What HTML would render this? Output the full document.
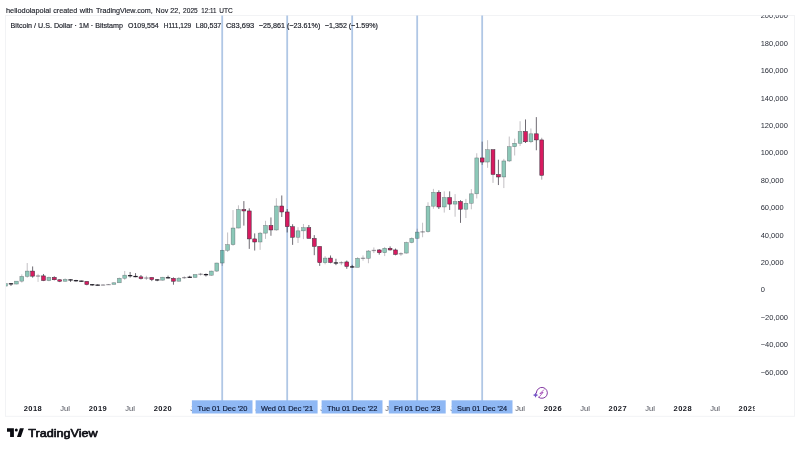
<!DOCTYPE html>
<html><head><meta charset="utf-8"><title>BTCUSD</title>
<style>
html,body{margin:0;padding:0;background:#fff;}
body{width:800px;height:450px;overflow:hidden;font-family:"Liberation Sans",sans-serif;}
svg{display:block;font-family:"Liberation Sans",sans-serif;}
text{-webkit-font-smoothing:antialiased;}
svg{will-change:transform;opacity:0.999;}
</style></head><body>
<svg width="800" height="450" viewBox="0 0 800 450">
<rect width="800" height="450" fill="#ffffff"/>
<!-- chart frame -->
<rect x="5.5" y="15.5" width="789" height="400.8" fill="none" stroke="#f2f3f5" stroke-width="1"/>
<text x="6.0" y="12.5" font-size="8" fill="#1a1d26" stroke="#1a1d26" stroke-width="0.15" textLength="45.0" lengthAdjust="spacingAndGlyphs">hellodolapolai</text><text x="53.25" y="12.5" font-size="8" fill="#1a1d26" stroke="#1a1d26" stroke-width="0.15" textLength="24.0" lengthAdjust="spacingAndGlyphs">created</text><text x="79.8" y="12.5" font-size="8" fill="#1a1d26" stroke="#1a1d26" stroke-width="0.15" textLength="13.2" lengthAdjust="spacingAndGlyphs">with</text><text x="96.0" y="12.5" font-size="8" fill="#1a1d26" stroke="#1a1d26" stroke-width="0.15" textLength="56.7" lengthAdjust="spacingAndGlyphs">TradingView.com,</text><text x="155.6" y="12.5" font-size="8" fill="#1a1d26" stroke="#1a1d26" stroke-width="0.15" textLength="12.6" lengthAdjust="spacingAndGlyphs">Nov</text><text x="170.3" y="12.5" font-size="8" fill="#1a1d26" stroke="#1a1d26" stroke-width="0.15" textLength="10.0" lengthAdjust="spacingAndGlyphs">22,</text><text x="183.1" y="12.5" font-size="8" fill="#1a1d26" stroke="#1a1d26" stroke-width="0.15" textLength="14.6" lengthAdjust="spacingAndGlyphs">2025</text><text x="201.3" y="12.5" font-size="8" fill="#1a1d26" stroke="#1a1d26" stroke-width="0.15" textLength="15.1" lengthAdjust="spacingAndGlyphs">12:11</text><text x="219.3" y="12.5" font-size="8" fill="#1a1d26" stroke="#1a1d26" stroke-width="0.15" textLength="13.5" lengthAdjust="spacingAndGlyphs">UTC</text>
<!-- time axis -->
<clipPath id="cp3"><rect x="0" y="395" width="754.7" height="30"/></clipPath><g clip-path="url(#cp3)"><text x="32.94" y="411.1" font-size="7.5" font-weight="bold" fill="#15171f" text-anchor="middle" letter-spacing="0.45">2018</text><text x="65.14" y="411.1" font-size="7.5" fill="#4c4f59" text-anchor="middle">Jul</text><text x="97.93" y="411.1" font-size="7.5" font-weight="bold" fill="#15171f" text-anchor="middle" letter-spacing="0.45">2019</text><text x="130.13" y="411.1" font-size="7.5" fill="#4c4f59" text-anchor="middle">Jul</text><text x="162.92" y="411.1" font-size="7.5" font-weight="bold" fill="#15171f" text-anchor="middle" letter-spacing="0.45">2020</text><text x="195.12" y="411.1" font-size="7.5" fill="#4c4f59" text-anchor="middle">Jul</text><text x="227.92" y="411.1" font-size="7.5" font-weight="bold" fill="#15171f" text-anchor="middle" letter-spacing="0.45">2021</text><text x="260.11" y="411.1" font-size="7.5" fill="#4c4f59" text-anchor="middle">Jul</text><text x="292.91" y="411.1" font-size="7.5" font-weight="bold" fill="#15171f" text-anchor="middle" letter-spacing="0.45">2022</text><text x="325.10" y="411.1" font-size="7.5" fill="#4c4f59" text-anchor="middle">Jul</text><text x="357.90" y="411.1" font-size="7.5" font-weight="bold" fill="#15171f" text-anchor="middle" letter-spacing="0.45">2023</text><text x="390.10" y="411.1" font-size="7.5" fill="#4c4f59" text-anchor="middle">Jul</text><text x="422.89" y="411.1" font-size="7.5" font-weight="bold" fill="#15171f" text-anchor="middle" letter-spacing="0.45">2024</text><text x="455.09" y="411.1" font-size="7.5" fill="#4c4f59" text-anchor="middle">Jul</text><text x="487.88" y="411.1" font-size="7.5" font-weight="bold" fill="#15171f" text-anchor="middle" letter-spacing="0.45">2025</text><text x="520.08" y="411.1" font-size="7.5" fill="#4c4f59" text-anchor="middle">Jul</text><text x="552.88" y="411.1" font-size="7.5" font-weight="bold" fill="#15171f" text-anchor="middle" letter-spacing="0.45">2026</text><text x="585.07" y="411.1" font-size="7.5" fill="#4c4f59" text-anchor="middle">Jul</text><text x="617.87" y="411.1" font-size="7.5" font-weight="bold" fill="#15171f" text-anchor="middle" letter-spacing="0.45">2027</text><text x="650.06" y="411.1" font-size="7.5" fill="#4c4f59" text-anchor="middle">Jul</text><text x="682.86" y="411.1" font-size="7.5" font-weight="bold" fill="#15171f" text-anchor="middle" letter-spacing="0.45">2028</text><text x="715.06" y="411.1" font-size="7.5" fill="#4c4f59" text-anchor="middle">Jul</text><text x="747.85" y="411.1" font-size="7.5" font-weight="bold" fill="#15171f" text-anchor="middle" letter-spacing="0.45">2029</text></g>
<!-- vertical lines -->
<g><rect x="221.30" y="15.5" width="1.8" height="386" fill="#b0c7e5"/><rect x="286.29" y="15.5" width="1.8" height="386" fill="#b0c7e5"/><rect x="351.28" y="15.5" width="1.8" height="386" fill="#b0c7e5"/><rect x="416.28" y="15.5" width="1.8" height="386" fill="#b0c7e5"/><rect x="481.27" y="15.5" width="1.8" height="386" fill="#b0c7e5"/></g>
<!-- candles -->
<g clip-path="url(#cp)">
<clipPath id="cp"><rect x="6" y="16" width="750" height="385"/></clipPath>
<line x1="5.56" x2="5.56" y1="283.47" y2="283.56" stroke="#2a2430" stroke-width="0.8" stroke-opacity="0.36"/>
<line x1="5.56" x2="5.56" y1="286.09" y2="286.37" stroke="#2a2430" stroke-width="0.8" stroke-opacity="0.36"/>
<rect x="3.63" y="283.56" width="3.85" height="2.53" fill="rgb(25,145,113)" fill-opacity="0.5" stroke="#2a2430" stroke-width="0.5" stroke-opacity="0.5"/>
<line x1="10.98" x2="10.98" y1="283.18" y2="285.92" stroke="#2a2430" stroke-width="0.8" stroke-opacity="0.85"/>
<rect x="8.80" y="283.19" width="4.35" height="1.25" fill="#15111b" fill-opacity="0.95"/>
<line x1="16.39" x2="16.39" y1="284.05" y2="284.34" stroke="#2a2430" stroke-width="0.8" stroke-opacity="0.36"/>
<rect x="14.47" y="281.16" width="3.85" height="2.89" fill="rgb(25,145,113)" fill-opacity="0.5" stroke="#2a2430" stroke-width="0.5" stroke-opacity="0.5"/>
<line x1="21.81" x2="21.81" y1="274.38" y2="276.37" stroke="#2a2430" stroke-width="0.8" stroke-opacity="0.36"/>
<line x1="21.81" x2="21.81" y1="281.16" y2="282.60" stroke="#2a2430" stroke-width="0.8" stroke-opacity="0.36"/>
<rect x="19.88" y="276.37" width="3.85" height="4.80" fill="rgb(25,145,113)" fill-opacity="0.5" stroke="#2a2430" stroke-width="0.5" stroke-opacity="0.5"/>
<line x1="27.22" x2="27.22" y1="263.06" y2="271.09" stroke="#2a2430" stroke-width="0.8" stroke-opacity="0.36"/>
<line x1="27.22" x2="27.22" y1="276.37" y2="277.67" stroke="#2a2430" stroke-width="0.8" stroke-opacity="0.36"/>
<rect x="25.30" y="271.09" width="3.85" height="5.27" fill="rgb(25,145,113)" fill-opacity="0.5" stroke="#2a2430" stroke-width="0.5" stroke-opacity="0.5"/>
<line x1="32.64" x2="32.64" y1="266.44" y2="271.09" stroke="#2a2430" stroke-width="0.8" stroke-opacity="0.85"/>
<line x1="32.64" x2="32.64" y1="276.16" y2="277.67" stroke="#2a2430" stroke-width="0.8" stroke-opacity="0.85"/>
<rect x="30.71" y="271.09" width="3.85" height="5.07" fill="#d81b60" stroke="#2a2430" stroke-width="0.5" stroke-opacity="0.95"/>
<line x1="38.06" x2="38.06" y1="273.83" y2="281.92" stroke="#2a2430" stroke-width="0.8" stroke-opacity="0.3"/>
<rect x="35.88" y="275.41" width="4.35" height="1.25" fill="#2a2430" fill-opacity="0.45"/>
<line x1="43.47" x2="43.47" y1="273.97" y2="275.89" stroke="#2a2430" stroke-width="0.8" stroke-opacity="0.85"/>
<line x1="43.47" x2="43.47" y1="280.55" y2="281.10" stroke="#2a2430" stroke-width="0.8" stroke-opacity="0.85"/>
<rect x="41.55" y="275.89" width="3.85" height="4.66" fill="#d81b60" stroke="#2a2430" stroke-width="0.5" stroke-opacity="0.95"/>
<line x1="48.89" x2="48.89" y1="276.64" y2="277.34" stroke="#2a2430" stroke-width="0.8" stroke-opacity="0.36"/>
<line x1="48.89" x2="48.89" y1="280.55" y2="281.23" stroke="#2a2430" stroke-width="0.8" stroke-opacity="0.36"/>
<rect x="46.96" y="277.34" width="3.85" height="3.21" fill="rgb(25,145,113)" fill-opacity="0.5" stroke="#2a2430" stroke-width="0.5" stroke-opacity="0.5"/>
<line x1="54.30" x2="54.30" y1="276.31" y2="277.34" stroke="#2a2430" stroke-width="0.8" stroke-opacity="0.85"/>
<line x1="54.30" x2="54.30" y1="279.75" y2="280.37" stroke="#2a2430" stroke-width="0.8" stroke-opacity="0.85"/>
<rect x="52.38" y="277.34" width="3.85" height="2.41" fill="#d81b60" stroke="#2a2430" stroke-width="0.5" stroke-opacity="0.95"/>
<line x1="59.72" x2="59.72" y1="279.36" y2="279.75" stroke="#2a2430" stroke-width="0.8" stroke-opacity="0.85"/>
<line x1="59.72" x2="59.72" y1="281.26" y2="282.12" stroke="#2a2430" stroke-width="0.8" stroke-opacity="0.85"/>
<rect x="57.79" y="279.75" width="3.85" height="1.51" fill="#d81b60" stroke="#2a2430" stroke-width="0.5" stroke-opacity="0.95"/>
<line x1="65.14" x2="65.14" y1="278.38" y2="279.42" stroke="#2a2430" stroke-width="0.8" stroke-opacity="0.36"/>
<line x1="65.14" x2="65.14" y1="281.26" y2="281.68" stroke="#2a2430" stroke-width="0.8" stroke-opacity="0.36"/>
<rect x="63.21" y="279.42" width="3.85" height="1.84" fill="rgb(25,145,113)" fill-opacity="0.5" stroke="#2a2430" stroke-width="0.5" stroke-opacity="0.5"/>
<line x1="70.55" x2="70.55" y1="279.38" y2="281.94" stroke="#2a2430" stroke-width="0.8" stroke-opacity="0.85"/>
<rect x="68.38" y="279.29" width="4.35" height="1.25" fill="#15111b" fill-opacity="0.95"/>
<line x1="75.97" x2="75.97" y1="279.86" y2="281.64" stroke="#2a2430" stroke-width="0.8" stroke-opacity="0.85"/>
<rect x="73.79" y="280.06" width="4.35" height="1.25" fill="#15111b" fill-opacity="0.95"/>
<line x1="81.38" x2="81.38" y1="280.68" y2="281.57" stroke="#2a2430" stroke-width="0.8" stroke-opacity="0.85"/>
<rect x="79.21" y="280.55" width="4.35" height="1.25" fill="#15111b" fill-opacity="0.95"/>
<line x1="86.80" x2="86.80" y1="281.03" y2="281.37" stroke="#2a2430" stroke-width="0.8" stroke-opacity="0.85"/>
<line x1="86.80" x2="86.80" y1="284.56" y2="285.25" stroke="#2a2430" stroke-width="0.8" stroke-opacity="0.85"/>
<rect x="84.87" y="281.37" width="3.85" height="3.19" fill="#d81b60" stroke="#2a2430" stroke-width="0.5" stroke-opacity="0.95"/>
<line x1="92.22" x2="92.22" y1="284.20" y2="285.73" stroke="#2a2430" stroke-width="0.8" stroke-opacity="0.85"/>
<rect x="90.04" y="284.13" width="4.35" height="1.25" fill="#15111b" fill-opacity="0.95"/>
<line x1="97.63" x2="97.63" y1="284.42" y2="285.45" stroke="#2a2430" stroke-width="0.8" stroke-opacity="0.85"/>
<rect x="95.46" y="284.52" width="4.35" height="1.25" fill="#15111b" fill-opacity="0.95"/>
<line x1="103.05" x2="103.05" y1="284.26" y2="285.42" stroke="#2a2430" stroke-width="0.8" stroke-opacity="0.36"/>
<rect x="100.87" y="284.45" width="4.35" height="1.25" fill="#2a2430" fill-opacity="0.45"/>
<line x1="108.46" x2="108.46" y1="284.38" y2="285.00" stroke="#2a2430" stroke-width="0.8" stroke-opacity="0.36"/>
<rect x="106.29" y="283.98" width="4.35" height="1.25" fill="#2a2430" fill-opacity="0.45"/>
<line x1="113.88" x2="113.88" y1="282.33" y2="282.78" stroke="#2a2430" stroke-width="0.8" stroke-opacity="0.36"/>
<line x1="113.88" x2="113.88" y1="284.40" y2="284.45" stroke="#2a2430" stroke-width="0.8" stroke-opacity="0.36"/>
<rect x="111.95" y="282.78" width="3.85" height="1.62" fill="rgb(25,145,113)" fill-opacity="0.5" stroke="#2a2430" stroke-width="0.5" stroke-opacity="0.5"/>
<line x1="119.30" x2="119.30" y1="277.55" y2="278.29" stroke="#2a2430" stroke-width="0.8" stroke-opacity="0.36"/>
<rect x="117.37" y="278.29" width="3.85" height="4.49" fill="rgb(25,145,113)" fill-opacity="0.5" stroke="#2a2430" stroke-width="0.5" stroke-opacity="0.5"/>
<line x1="124.71" x2="124.71" y1="270.98" y2="275.18" stroke="#2a2430" stroke-width="0.8" stroke-opacity="0.36"/>
<line x1="124.71" x2="124.71" y1="278.29" y2="279.82" stroke="#2a2430" stroke-width="0.8" stroke-opacity="0.36"/>
<rect x="122.79" y="275.18" width="3.85" height="3.11" fill="rgb(25,145,113)" fill-opacity="0.5" stroke="#2a2430" stroke-width="0.5" stroke-opacity="0.5"/>
<line x1="130.13" x2="130.13" y1="271.98" y2="277.60" stroke="#2a2430" stroke-width="0.8" stroke-opacity="0.85"/>
<rect x="127.95" y="275.06" width="4.35" height="1.25" fill="#15111b" fill-opacity="0.95"/>
<line x1="135.54" x2="135.54" y1="273.12" y2="277.23" stroke="#2a2430" stroke-width="0.8" stroke-opacity="0.85"/>
<rect x="133.37" y="275.91" width="4.35" height="1.25" fill="#15111b" fill-opacity="0.95"/>
<line x1="140.96" x2="140.96" y1="275.00" y2="276.86" stroke="#2a2430" stroke-width="0.8" stroke-opacity="0.85"/>
<line x1="140.96" x2="140.96" y1="278.64" y2="279.45" stroke="#2a2430" stroke-width="0.8" stroke-opacity="0.85"/>
<rect x="139.03" y="276.86" width="3.85" height="1.78" fill="#d81b60" stroke="#2a2430" stroke-width="0.5" stroke-opacity="0.95"/>
<line x1="146.38" x2="146.38" y1="275.82" y2="280.00" stroke="#2a2430" stroke-width="0.8" stroke-opacity="0.36"/>
<rect x="144.20" y="277.43" width="4.35" height="1.25" fill="#2a2430" fill-opacity="0.45"/>
<line x1="151.79" x2="151.79" y1="276.99" y2="277.46" stroke="#2a2430" stroke-width="0.8" stroke-opacity="0.85"/>
<line x1="151.79" x2="151.79" y1="279.66" y2="281.10" stroke="#2a2430" stroke-width="0.8" stroke-opacity="0.85"/>
<rect x="149.87" y="277.46" width="3.85" height="2.19" fill="#d81b60" stroke="#2a2430" stroke-width="0.5" stroke-opacity="0.95"/>
<line x1="157.21" x2="157.21" y1="279.38" y2="281.19" stroke="#2a2430" stroke-width="0.8" stroke-opacity="0.85"/>
<rect x="155.03" y="279.30" width="4.35" height="1.25" fill="#15111b" fill-opacity="0.95"/>
<line x1="162.62" x2="162.62" y1="276.89" y2="277.22" stroke="#2a2430" stroke-width="0.8" stroke-opacity="0.36"/>
<line x1="162.62" x2="162.62" y1="280.18" y2="280.62" stroke="#2a2430" stroke-width="0.8" stroke-opacity="0.36"/>
<rect x="160.70" y="277.22" width="3.85" height="2.96" fill="rgb(25,145,113)" fill-opacity="0.5" stroke="#2a2430" stroke-width="0.5" stroke-opacity="0.5"/>
<line x1="168.04" x2="168.04" y1="275.62" y2="278.45" stroke="#2a2430" stroke-width="0.8" stroke-opacity="0.85"/>
<rect x="165.86" y="277.15" width="4.35" height="1.25" fill="#15111b" fill-opacity="0.95"/>
<line x1="173.46" x2="173.46" y1="277.40" y2="278.33" stroke="#2a2430" stroke-width="0.8" stroke-opacity="0.85"/>
<line x1="173.46" x2="173.46" y1="281.22" y2="284.73" stroke="#2a2430" stroke-width="0.8" stroke-opacity="0.85"/>
<rect x="171.53" y="278.33" width="3.85" height="2.89" fill="#d81b60" stroke="#2a2430" stroke-width="0.5" stroke-opacity="0.95"/>
<line x1="178.87" x2="178.87" y1="277.04" y2="278.19" stroke="#2a2430" stroke-width="0.8" stroke-opacity="0.36"/>
<line x1="178.87" x2="178.87" y1="281.22" y2="281.57" stroke="#2a2430" stroke-width="0.8" stroke-opacity="0.36"/>
<rect x="176.95" y="278.19" width="3.85" height="3.03" fill="rgb(25,145,113)" fill-opacity="0.5" stroke="#2a2430" stroke-width="0.5" stroke-opacity="0.5"/>
<line x1="184.29" x2="184.29" y1="276.20" y2="278.90" stroke="#2a2430" stroke-width="0.8" stroke-opacity="0.36"/>
<rect x="182.11" y="277.00" width="4.35" height="1.25" fill="#2a2430" fill-opacity="0.45"/>
<line x1="189.70" x2="189.70" y1="275.78" y2="277.90" stroke="#2a2430" stroke-width="0.8" stroke-opacity="0.85"/>
<rect x="187.53" y="276.65" width="4.35" height="1.25" fill="#15111b" fill-opacity="0.95"/>
<line x1="195.12" x2="195.12" y1="274.35" y2="274.46" stroke="#2a2430" stroke-width="0.8" stroke-opacity="0.36"/>
<line x1="195.12" x2="195.12" y1="277.49" y2="277.81" stroke="#2a2430" stroke-width="0.8" stroke-opacity="0.36"/>
<rect x="193.19" y="274.46" width="3.85" height="3.03" fill="rgb(25,145,113)" fill-opacity="0.5" stroke="#2a2430" stroke-width="0.5" stroke-opacity="0.5"/>
<line x1="200.54" x2="200.54" y1="272.92" y2="275.55" stroke="#2a2430" stroke-width="0.8" stroke-opacity="0.36"/>
<rect x="198.36" y="273.63" width="4.35" height="1.25" fill="#2a2430" fill-opacity="0.45"/>
<line x1="205.95" x2="205.95" y1="273.49" y2="276.53" stroke="#2a2430" stroke-width="0.8" stroke-opacity="0.85"/>
<rect x="203.78" y="274.02" width="4.35" height="1.25" fill="#15111b" fill-opacity="0.95"/>
<line x1="211.37" x2="211.37" y1="270.68" y2="271.09" stroke="#2a2430" stroke-width="0.8" stroke-opacity="0.36"/>
<line x1="211.37" x2="211.37" y1="275.23" y2="275.79" stroke="#2a2430" stroke-width="0.8" stroke-opacity="0.36"/>
<rect x="209.44" y="271.09" width="3.85" height="4.14" fill="rgb(25,145,113)" fill-opacity="0.5" stroke="#2a2430" stroke-width="0.5" stroke-opacity="0.5"/>
<line x1="216.78" x2="216.78" y1="262.79" y2="263.01" stroke="#2a2430" stroke-width="0.8" stroke-opacity="0.36"/>
<line x1="216.78" x2="216.78" y1="271.09" y2="271.92" stroke="#2a2430" stroke-width="0.8" stroke-opacity="0.36"/>
<rect x="214.86" y="263.01" width="3.85" height="8.08" fill="rgb(25,145,113)" fill-opacity="0.5" stroke="#2a2430" stroke-width="0.5" stroke-opacity="0.5"/>
<line x1="222.20" x2="222.20" y1="249.86" y2="250.28" stroke="#2a2430" stroke-width="0.8" stroke-opacity="0.36"/>
<line x1="222.20" x2="222.20" y1="263.01" y2="265.93" stroke="#2a2430" stroke-width="0.8" stroke-opacity="0.36"/>
<rect x="220.27" y="250.28" width="3.85" height="12.73" fill="rgb(25,145,113)" fill-opacity="0.5" stroke="#2a2430" stroke-width="0.5" stroke-opacity="0.5"/>
<line x1="227.62" x2="227.62" y1="232.47" y2="244.60" stroke="#2a2430" stroke-width="0.8" stroke-opacity="0.36"/>
<line x1="227.62" x2="227.62" y1="250.28" y2="252.01" stroke="#2a2430" stroke-width="0.8" stroke-opacity="0.36"/>
<rect x="225.69" y="244.60" width="3.85" height="5.69" fill="rgb(25,145,113)" fill-opacity="0.5" stroke="#2a2430" stroke-width="0.5" stroke-opacity="0.5"/>
<line x1="233.03" x2="233.03" y1="210.06" y2="228.02" stroke="#2a2430" stroke-width="0.8" stroke-opacity="0.36"/>
<line x1="233.03" x2="233.03" y1="244.60" y2="245.75" stroke="#2a2430" stroke-width="0.8" stroke-opacity="0.36"/>
<rect x="231.11" y="228.02" width="3.85" height="16.58" fill="rgb(25,145,113)" fill-opacity="0.5" stroke="#2a2430" stroke-width="0.5" stroke-opacity="0.5"/>
<line x1="238.45" x2="238.45" y1="205.33" y2="209.44" stroke="#2a2430" stroke-width="0.8" stroke-opacity="0.36"/>
<line x1="238.45" x2="238.45" y1="228.02" y2="228.35" stroke="#2a2430" stroke-width="0.8" stroke-opacity="0.36"/>
<rect x="236.52" y="209.44" width="3.85" height="18.58" fill="rgb(25,145,113)" fill-opacity="0.5" stroke="#2a2430" stroke-width="0.5" stroke-opacity="0.5"/>
<line x1="243.86" x2="243.86" y1="201.09" y2="209.44" stroke="#2a2430" stroke-width="0.8" stroke-opacity="0.85"/>
<line x1="243.86" x2="243.86" y1="210.95" y2="225.61" stroke="#2a2430" stroke-width="0.8" stroke-opacity="0.85"/>
<rect x="241.94" y="209.44" width="3.85" height="1.51" fill="#d81b60" stroke="#2a2430" stroke-width="0.5" stroke-opacity="0.95"/>
<line x1="249.28" x2="249.28" y1="208.35" y2="210.95" stroke="#2a2430" stroke-width="0.8" stroke-opacity="0.85"/>
<line x1="249.28" x2="249.28" y1="238.90" y2="248.90" stroke="#2a2430" stroke-width="0.8" stroke-opacity="0.85"/>
<rect x="247.35" y="210.95" width="3.85" height="27.95" fill="#d81b60" stroke="#2a2430" stroke-width="0.5" stroke-opacity="0.95"/>
<line x1="254.70" x2="254.70" y1="233.38" y2="238.90" stroke="#2a2430" stroke-width="0.8" stroke-opacity="0.85"/>
<line x1="254.70" x2="254.70" y1="242.00" y2="250.54" stroke="#2a2430" stroke-width="0.8" stroke-opacity="0.85"/>
<rect x="252.77" y="238.90" width="3.85" height="3.10" fill="#d81b60" stroke="#2a2430" stroke-width="0.5" stroke-opacity="0.95"/>
<line x1="260.11" x2="260.11" y1="231.91" y2="233.15" stroke="#2a2430" stroke-width="0.8" stroke-opacity="0.36"/>
<line x1="260.11" x2="260.11" y1="242.00" y2="249.86" stroke="#2a2430" stroke-width="0.8" stroke-opacity="0.36"/>
<rect x="258.19" y="233.15" width="3.85" height="8.85" fill="rgb(25,145,113)" fill-opacity="0.5" stroke="#2a2430" stroke-width="0.5" stroke-opacity="0.5"/>
<line x1="265.53" x2="265.53" y1="220.81" y2="225.43" stroke="#2a2430" stroke-width="0.8" stroke-opacity="0.36"/>
<line x1="265.53" x2="265.53" y1="233.15" y2="238.90" stroke="#2a2430" stroke-width="0.8" stroke-opacity="0.36"/>
<rect x="263.60" y="225.43" width="3.85" height="7.71" fill="rgb(25,145,113)" fill-opacity="0.5" stroke="#2a2430" stroke-width="0.5" stroke-opacity="0.5"/>
<line x1="270.94" x2="270.94" y1="217.46" y2="225.43" stroke="#2a2430" stroke-width="0.8" stroke-opacity="0.85"/>
<line x1="270.94" x2="270.94" y1="229.97" y2="235.75" stroke="#2a2430" stroke-width="0.8" stroke-opacity="0.85"/>
<rect x="269.02" y="225.43" width="3.85" height="4.53" fill="#d81b60" stroke="#2a2430" stroke-width="0.5" stroke-opacity="0.95"/>
<line x1="276.36" x2="276.36" y1="198.21" y2="206.02" stroke="#2a2430" stroke-width="0.8" stroke-opacity="0.36"/>
<line x1="276.36" x2="276.36" y1="229.97" y2="230.69" stroke="#2a2430" stroke-width="0.8" stroke-opacity="0.36"/>
<rect x="274.44" y="206.02" width="3.85" height="23.95" fill="rgb(25,145,113)" fill-opacity="0.5" stroke="#2a2430" stroke-width="0.5" stroke-opacity="0.5"/>
<line x1="281.78" x2="281.78" y1="195.47" y2="206.02" stroke="#2a2430" stroke-width="0.8" stroke-opacity="0.85"/>
<line x1="281.78" x2="281.78" y1="211.98" y2="216.98" stroke="#2a2430" stroke-width="0.8" stroke-opacity="0.85"/>
<rect x="279.85" y="206.02" width="3.85" height="5.96" fill="#d81b60" stroke="#2a2430" stroke-width="0.5" stroke-opacity="0.95"/>
<line x1="287.19" x2="287.19" y1="209.03" y2="211.98" stroke="#2a2430" stroke-width="0.8" stroke-opacity="0.85"/>
<line x1="287.19" x2="287.19" y1="226.71" y2="232.46" stroke="#2a2430" stroke-width="0.8" stroke-opacity="0.85"/>
<rect x="285.27" y="211.98" width="3.85" height="14.73" fill="#d81b60" stroke="#2a2430" stroke-width="0.5" stroke-opacity="0.95"/>
<line x1="292.61" x2="292.61" y1="224.25" y2="226.71" stroke="#2a2430" stroke-width="0.8" stroke-opacity="0.85"/>
<line x1="292.61" x2="292.61" y1="237.25" y2="244.86" stroke="#2a2430" stroke-width="0.8" stroke-opacity="0.85"/>
<rect x="290.68" y="226.71" width="3.85" height="10.55" fill="#d81b60" stroke="#2a2430" stroke-width="0.5" stroke-opacity="0.95"/>
<line x1="298.02" x2="298.02" y1="227.19" y2="230.84" stroke="#2a2430" stroke-width="0.8" stroke-opacity="0.36"/>
<line x1="298.02" x2="298.02" y1="237.25" y2="243.01" stroke="#2a2430" stroke-width="0.8" stroke-opacity="0.36"/>
<rect x="296.10" y="230.84" width="3.85" height="6.41" fill="rgb(25,145,113)" fill-opacity="0.5" stroke="#2a2430" stroke-width="0.5" stroke-opacity="0.5"/>
<line x1="303.44" x2="303.44" y1="223.97" y2="227.64" stroke="#2a2430" stroke-width="0.8" stroke-opacity="0.36"/>
<line x1="303.44" x2="303.44" y1="230.84" y2="239.08" stroke="#2a2430" stroke-width="0.8" stroke-opacity="0.36"/>
<rect x="301.51" y="227.64" width="3.85" height="3.21" fill="rgb(25,145,113)" fill-opacity="0.5" stroke="#2a2430" stroke-width="0.5" stroke-opacity="0.5"/>
<line x1="308.86" x2="308.86" y1="224.99" y2="227.64" stroke="#2a2430" stroke-width="0.8" stroke-opacity="0.85"/>
<line x1="308.86" x2="308.86" y1="238.43" y2="238.49" stroke="#2a2430" stroke-width="0.8" stroke-opacity="0.85"/>
<rect x="306.93" y="227.64" width="3.85" height="10.80" fill="#d81b60" stroke="#2a2430" stroke-width="0.5" stroke-opacity="0.95"/>
<line x1="314.27" x2="314.27" y1="235.13" y2="238.43" stroke="#2a2430" stroke-width="0.8" stroke-opacity="0.85"/>
<line x1="314.27" x2="314.27" y1="246.45" y2="255.20" stroke="#2a2430" stroke-width="0.8" stroke-opacity="0.85"/>
<rect x="312.35" y="238.43" width="3.85" height="8.01" fill="#d81b60" stroke="#2a2430" stroke-width="0.5" stroke-opacity="0.95"/>
<line x1="319.69" x2="319.69" y1="246.19" y2="246.45" stroke="#2a2430" stroke-width="0.8" stroke-opacity="0.85"/>
<line x1="319.69" x2="319.69" y1="262.68" y2="265.89" stroke="#2a2430" stroke-width="0.8" stroke-opacity="0.85"/>
<rect x="317.76" y="246.45" width="3.85" height="16.23" fill="#d81b60" stroke="#2a2430" stroke-width="0.5" stroke-opacity="0.95"/>
<line x1="325.10" x2="325.10" y1="256.20" y2="258.08" stroke="#2a2430" stroke-width="0.8" stroke-opacity="0.36"/>
<line x1="325.10" x2="325.10" y1="262.68" y2="264.27" stroke="#2a2430" stroke-width="0.8" stroke-opacity="0.36"/>
<rect x="323.18" y="258.08" width="3.85" height="4.60" fill="rgb(25,145,113)" fill-opacity="0.5" stroke="#2a2430" stroke-width="0.5" stroke-opacity="0.5"/>
<line x1="330.52" x2="330.52" y1="255.48" y2="258.08" stroke="#2a2430" stroke-width="0.8" stroke-opacity="0.85"/>
<line x1="330.52" x2="330.52" y1="262.53" y2="263.26" stroke="#2a2430" stroke-width="0.8" stroke-opacity="0.85"/>
<rect x="328.59" y="258.08" width="3.85" height="4.45" fill="#d81b60" stroke="#2a2430" stroke-width="0.5" stroke-opacity="0.95"/>
<line x1="335.94" x2="335.94" y1="258.76" y2="265.13" stroke="#2a2430" stroke-width="0.8" stroke-opacity="0.85"/>
<rect x="333.76" y="262.34" width="4.35" height="1.25" fill="#15111b" fill-opacity="0.95"/>
<line x1="341.35" x2="341.35" y1="261.12" y2="265.13" stroke="#2a2430" stroke-width="0.8" stroke-opacity="0.36"/>
<rect x="339.18" y="262.04" width="4.35" height="1.25" fill="#2a2430" fill-opacity="0.45"/>
<line x1="346.77" x2="346.77" y1="260.57" y2="261.93" stroke="#2a2430" stroke-width="0.8" stroke-opacity="0.85"/>
<line x1="346.77" x2="346.77" y1="266.49" y2="268.79" stroke="#2a2430" stroke-width="0.8" stroke-opacity="0.85"/>
<rect x="344.84" y="261.93" width="3.85" height="4.56" fill="#d81b60" stroke="#2a2430" stroke-width="0.5" stroke-opacity="0.95"/>
<line x1="352.18" x2="352.18" y1="264.82" y2="267.71" stroke="#2a2430" stroke-width="0.8" stroke-opacity="0.85"/>
<rect x="350.01" y="266.30" width="4.35" height="1.25" fill="#15111b" fill-opacity="0.95"/>
<line x1="357.60" x2="357.60" y1="257.17" y2="258.31" stroke="#2a2430" stroke-width="0.8" stroke-opacity="0.36"/>
<line x1="357.60" x2="357.60" y1="267.35" y2="267.41" stroke="#2a2430" stroke-width="0.8" stroke-opacity="0.36"/>
<rect x="355.68" y="258.31" width="3.85" height="9.04" fill="rgb(25,145,113)" fill-opacity="0.5" stroke="#2a2430" stroke-width="0.5" stroke-opacity="0.5"/>
<line x1="363.02" x2="363.02" y1="255.41" y2="260.72" stroke="#2a2430" stroke-width="0.8" stroke-opacity="0.36"/>
<rect x="360.84" y="257.69" width="4.35" height="1.25" fill="#2a2430" fill-opacity="0.45"/>
<line x1="368.43" x2="368.43" y1="250.01" y2="251.00" stroke="#2a2430" stroke-width="0.8" stroke-opacity="0.36"/>
<line x1="368.43" x2="368.43" y1="258.31" y2="263.22" stroke="#2a2430" stroke-width="0.8" stroke-opacity="0.36"/>
<rect x="366.51" y="251.00" width="3.85" height="7.32" fill="rgb(25,145,113)" fill-opacity="0.5" stroke="#2a2430" stroke-width="0.5" stroke-opacity="0.5"/>
<line x1="373.85" x2="373.85" y1="247.46" y2="253.09" stroke="#2a2430" stroke-width="0.8" stroke-opacity="0.36"/>
<rect x="371.67" y="249.86" width="4.35" height="1.25" fill="#2a2430" fill-opacity="0.45"/>
<line x1="379.26" x2="379.26" y1="249.11" y2="249.95" stroke="#2a2430" stroke-width="0.8" stroke-opacity="0.85"/>
<line x1="379.26" x2="379.26" y1="252.72" y2="254.65" stroke="#2a2430" stroke-width="0.8" stroke-opacity="0.85"/>
<rect x="377.34" y="249.95" width="3.85" height="2.77" fill="#d81b60" stroke="#2a2430" stroke-width="0.5" stroke-opacity="0.95"/>
<line x1="384.68" x2="384.68" y1="246.94" y2="248.26" stroke="#2a2430" stroke-width="0.8" stroke-opacity="0.36"/>
<line x1="384.68" x2="384.68" y1="252.72" y2="256.09" stroke="#2a2430" stroke-width="0.8" stroke-opacity="0.36"/>
<rect x="382.75" y="248.26" width="3.85" height="4.47" fill="rgb(25,145,113)" fill-opacity="0.5" stroke="#2a2430" stroke-width="0.5" stroke-opacity="0.5"/>
<line x1="390.10" x2="390.10" y1="246.39" y2="248.26" stroke="#2a2430" stroke-width="0.8" stroke-opacity="0.85"/>
<line x1="390.10" x2="390.10" y1="249.95" y2="250.48" stroke="#2a2430" stroke-width="0.8" stroke-opacity="0.85"/>
<rect x="388.17" y="248.26" width="3.85" height="1.70" fill="#d81b60" stroke="#2a2430" stroke-width="0.5" stroke-opacity="0.95"/>
<line x1="395.51" x2="395.51" y1="248.57" y2="249.95" stroke="#2a2430" stroke-width="0.8" stroke-opacity="0.85"/>
<line x1="395.51" x2="395.51" y1="254.46" y2="255.34" stroke="#2a2430" stroke-width="0.8" stroke-opacity="0.85"/>
<rect x="393.59" y="249.95" width="3.85" height="4.51" fill="#d81b60" stroke="#2a2430" stroke-width="0.5" stroke-opacity="0.95"/>
<line x1="400.93" x2="400.93" y1="252.32" y2="255.89" stroke="#2a2430" stroke-width="0.8" stroke-opacity="0.36"/>
<rect x="398.75" y="253.14" width="4.35" height="1.25" fill="#2a2430" fill-opacity="0.45"/>
<line x1="406.34" x2="406.34" y1="241.67" y2="242.53" stroke="#2a2430" stroke-width="0.8" stroke-opacity="0.36"/>
<line x1="406.34" x2="406.34" y1="253.06" y2="253.64" stroke="#2a2430" stroke-width="0.8" stroke-opacity="0.36"/>
<rect x="404.42" y="242.53" width="3.85" height="10.54" fill="rgb(25,145,113)" fill-opacity="0.5" stroke="#2a2430" stroke-width="0.5" stroke-opacity="0.5"/>
<line x1="411.76" x2="411.76" y1="237.32" y2="238.32" stroke="#2a2430" stroke-width="0.8" stroke-opacity="0.36"/>
<line x1="411.76" x2="411.76" y1="242.53" y2="243.28" stroke="#2a2430" stroke-width="0.8" stroke-opacity="0.36"/>
<rect x="409.83" y="238.32" width="3.85" height="4.21" fill="rgb(25,145,113)" fill-opacity="0.5" stroke="#2a2430" stroke-width="0.5" stroke-opacity="0.5"/>
<line x1="417.18" x2="417.18" y1="228.72" y2="232.08" stroke="#2a2430" stroke-width="0.8" stroke-opacity="0.36"/>
<line x1="417.18" x2="417.18" y1="238.32" y2="238.49" stroke="#2a2430" stroke-width="0.8" stroke-opacity="0.36"/>
<rect x="415.25" y="232.08" width="3.85" height="6.25" fill="rgb(25,145,113)" fill-opacity="0.5" stroke="#2a2430" stroke-width="0.5" stroke-opacity="0.5"/>
<line x1="422.59" x2="422.59" y1="222.73" y2="237.25" stroke="#2a2430" stroke-width="0.8" stroke-opacity="0.36"/>
<rect x="420.42" y="231.25" width="4.35" height="1.25" fill="#2a2430" fill-opacity="0.45"/>
<line x1="428.01" x2="428.01" y1="202.32" y2="206.20" stroke="#2a2430" stroke-width="0.8" stroke-opacity="0.36"/>
<line x1="428.01" x2="428.01" y1="231.67" y2="232.62" stroke="#2a2430" stroke-width="0.8" stroke-opacity="0.36"/>
<rect x="426.08" y="206.20" width="3.85" height="25.47" fill="rgb(25,145,113)" fill-opacity="0.5" stroke="#2a2430" stroke-width="0.5" stroke-opacity="0.5"/>
<line x1="433.42" x2="433.42" y1="188.89" y2="192.33" stroke="#2a2430" stroke-width="0.8" stroke-opacity="0.36"/>
<line x1="433.42" x2="433.42" y1="206.20" y2="208.76" stroke="#2a2430" stroke-width="0.8" stroke-opacity="0.36"/>
<rect x="431.50" y="192.33" width="3.85" height="13.86" fill="rgb(25,145,113)" fill-opacity="0.5" stroke="#2a2430" stroke-width="0.5" stroke-opacity="0.5"/>
<line x1="438.84" x2="438.84" y1="190.32" y2="192.33" stroke="#2a2430" stroke-width="0.8" stroke-opacity="0.85"/>
<line x1="438.84" x2="438.84" y1="206.95" y2="209.03" stroke="#2a2430" stroke-width="0.8" stroke-opacity="0.85"/>
<rect x="436.92" y="192.33" width="3.85" height="14.62" fill="#d81b60" stroke="#2a2430" stroke-width="0.5" stroke-opacity="0.95"/>
<line x1="444.26" x2="444.26" y1="191.36" y2="197.53" stroke="#2a2430" stroke-width="0.8" stroke-opacity="0.36"/>
<line x1="444.26" x2="444.26" y1="206.95" y2="212.59" stroke="#2a2430" stroke-width="0.8" stroke-opacity="0.36"/>
<rect x="442.33" y="197.53" width="3.85" height="9.43" fill="rgb(25,145,113)" fill-opacity="0.5" stroke="#2a2430" stroke-width="0.5" stroke-opacity="0.5"/>
<line x1="449.67" x2="449.67" y1="191.36" y2="197.53" stroke="#2a2430" stroke-width="0.8" stroke-opacity="0.85"/>
<line x1="449.67" x2="449.67" y1="204.10" y2="209.99" stroke="#2a2430" stroke-width="0.8" stroke-opacity="0.85"/>
<rect x="447.75" y="197.53" width="3.85" height="6.58" fill="#d81b60" stroke="#2a2430" stroke-width="0.5" stroke-opacity="0.95"/>
<line x1="455.09" x2="455.09" y1="194.10" y2="201.50" stroke="#2a2430" stroke-width="0.8" stroke-opacity="0.36"/>
<line x1="455.09" x2="455.09" y1="204.10" y2="216.70" stroke="#2a2430" stroke-width="0.8" stroke-opacity="0.36"/>
<rect x="453.16" y="201.50" width="3.85" height="2.60" fill="rgb(25,145,113)" fill-opacity="0.5" stroke="#2a2430" stroke-width="0.5" stroke-opacity="0.5"/>
<line x1="460.50" x2="460.50" y1="200.13" y2="201.50" stroke="#2a2430" stroke-width="0.8" stroke-opacity="0.85"/>
<line x1="460.50" x2="460.50" y1="209.21" y2="222.87" stroke="#2a2430" stroke-width="0.8" stroke-opacity="0.85"/>
<rect x="458.58" y="201.50" width="3.85" height="7.71" fill="#d81b60" stroke="#2a2430" stroke-width="0.5" stroke-opacity="0.95"/>
<line x1="465.92" x2="465.92" y1="198.90" y2="203.28" stroke="#2a2430" stroke-width="0.8" stroke-opacity="0.36"/>
<line x1="465.92" x2="465.92" y1="209.21" y2="218.07" stroke="#2a2430" stroke-width="0.8" stroke-opacity="0.36"/>
<rect x="464.00" y="203.28" width="3.85" height="5.93" fill="rgb(25,145,113)" fill-opacity="0.5" stroke="#2a2430" stroke-width="0.5" stroke-opacity="0.5"/>
<line x1="471.34" x2="471.34" y1="189.17" y2="193.83" stroke="#2a2430" stroke-width="0.8" stroke-opacity="0.36"/>
<line x1="471.34" x2="471.34" y1="203.28" y2="209.31" stroke="#2a2430" stroke-width="0.8" stroke-opacity="0.36"/>
<rect x="469.41" y="193.83" width="3.85" height="9.45" fill="rgb(25,145,113)" fill-opacity="0.5" stroke="#2a2430" stroke-width="0.5" stroke-opacity="0.5"/>
<line x1="476.75" x2="476.75" y1="153.27" y2="157.93" stroke="#2a2430" stroke-width="0.8" stroke-opacity="0.36"/>
<line x1="476.75" x2="476.75" y1="193.83" y2="198.48" stroke="#2a2430" stroke-width="0.8" stroke-opacity="0.36"/>
<rect x="474.83" y="157.93" width="3.85" height="35.89" fill="rgb(25,145,113)" fill-opacity="0.5" stroke="#2a2430" stroke-width="0.5" stroke-opacity="0.5"/>
<line x1="482.17" x2="482.17" y1="141.63" y2="157.93" stroke="#2a2430" stroke-width="0.8" stroke-opacity="0.7"/>
<line x1="482.17" x2="482.17" y1="162.04" y2="164.92" stroke="#2a2430" stroke-width="0.8" stroke-opacity="0.7"/>
<rect x="480.24" y="157.93" width="3.85" height="4.11" fill="#d81b60" stroke="#2a2430" stroke-width="0.5" stroke-opacity="0.95"/>
<line x1="487.58" x2="487.58" y1="140.19" y2="149.71" stroke="#2a2430" stroke-width="0.8" stroke-opacity="0.36"/>
<line x1="487.58" x2="487.58" y1="162.04" y2="167.80" stroke="#2a2430" stroke-width="0.8" stroke-opacity="0.36"/>
<rect x="485.66" y="149.71" width="3.85" height="12.33" fill="rgb(25,145,113)" fill-opacity="0.5" stroke="#2a2430" stroke-width="0.5" stroke-opacity="0.5"/>
<line x1="493.00" x2="493.00" y1="149.30" y2="149.71" stroke="#2a2430" stroke-width="0.8" stroke-opacity="0.42"/>
<line x1="493.00" x2="493.00" y1="174.44" y2="182.87" stroke="#2a2430" stroke-width="0.8" stroke-opacity="0.42"/>
<rect x="491.07" y="149.71" width="3.85" height="24.73" fill="#d81b60" stroke="#2a2430" stroke-width="0.5" stroke-opacity="0.95"/>
<line x1="498.42" x2="498.42" y1="159.71" y2="174.44" stroke="#2a2430" stroke-width="0.8" stroke-opacity="0.85"/>
<line x1="498.42" x2="498.42" y1="176.98" y2="185.06" stroke="#2a2430" stroke-width="0.8" stroke-opacity="0.85"/>
<rect x="496.49" y="174.44" width="3.85" height="2.53" fill="#d81b60" stroke="#2a2430" stroke-width="0.5" stroke-opacity="0.95"/>
<line x1="503.83" x2="503.83" y1="158.89" y2="160.95" stroke="#2a2430" stroke-width="0.8" stroke-opacity="0.36"/>
<line x1="503.83" x2="503.83" y1="176.98" y2="188.07" stroke="#2a2430" stroke-width="0.8" stroke-opacity="0.36"/>
<rect x="501.91" y="160.95" width="3.85" height="16.03" fill="rgb(25,145,113)" fill-opacity="0.5" stroke="#2a2430" stroke-width="0.5" stroke-opacity="0.5"/>
<line x1="509.25" x2="509.25" y1="136.56" y2="146.70" stroke="#2a2430" stroke-width="0.8" stroke-opacity="0.36"/>
<line x1="509.25" x2="509.25" y1="160.95" y2="162.04" stroke="#2a2430" stroke-width="0.8" stroke-opacity="0.36"/>
<rect x="507.32" y="146.70" width="3.85" height="14.25" fill="rgb(25,145,113)" fill-opacity="0.5" stroke="#2a2430" stroke-width="0.5" stroke-opacity="0.5"/>
<line x1="514.66" x2="514.66" y1="138.62" y2="143.27" stroke="#2a2430" stroke-width="0.8" stroke-opacity="0.36"/>
<line x1="514.66" x2="514.66" y1="146.70" y2="155.47" stroke="#2a2430" stroke-width="0.8" stroke-opacity="0.36"/>
<rect x="512.74" y="143.27" width="3.85" height="3.43" fill="rgb(25,145,113)" fill-opacity="0.5" stroke="#2a2430" stroke-width="0.5" stroke-opacity="0.5"/>
<line x1="520.08" x2="520.08" y1="121.22" y2="131.49" stroke="#2a2430" stroke-width="0.8" stroke-opacity="0.36"/>
<line x1="520.08" x2="520.08" y1="143.27" y2="146.01" stroke="#2a2430" stroke-width="0.8" stroke-opacity="0.36"/>
<rect x="518.15" y="131.49" width="3.85" height="11.78" fill="rgb(25,145,113)" fill-opacity="0.5" stroke="#2a2430" stroke-width="0.5" stroke-opacity="0.5"/>
<line x1="525.50" x2="525.50" y1="119.44" y2="131.49" stroke="#2a2430" stroke-width="0.8" stroke-opacity="0.85"/>
<line x1="525.50" x2="525.50" y1="141.77" y2="143.00" stroke="#2a2430" stroke-width="0.8" stroke-opacity="0.85"/>
<rect x="523.57" y="131.49" width="3.85" height="10.28" fill="#d81b60" stroke="#2a2430" stroke-width="0.5" stroke-opacity="0.95"/>
<line x1="530.91" x2="530.91" y1="128.48" y2="133.82" stroke="#2a2430" stroke-width="0.8" stroke-opacity="0.36"/>
<line x1="530.91" x2="530.91" y1="141.77" y2="143.14" stroke="#2a2430" stroke-width="0.8" stroke-opacity="0.36"/>
<rect x="528.99" y="133.82" width="3.85" height="7.95" fill="rgb(25,145,113)" fill-opacity="0.5" stroke="#2a2430" stroke-width="0.5" stroke-opacity="0.5"/>
<line x1="536.33" x2="536.33" y1="117.11" y2="133.82" stroke="#2a2430" stroke-width="0.8" stroke-opacity="0.85"/>
<line x1="536.33" x2="536.33" y1="139.91" y2="150.26" stroke="#2a2430" stroke-width="0.8" stroke-opacity="0.85"/>
<rect x="534.40" y="133.82" width="3.85" height="6.09" fill="#d81b60" stroke="#2a2430" stroke-width="0.5" stroke-opacity="0.95"/>
<line x1="541.74" x2="541.74" y1="137.75" y2="139.91" stroke="#2a2430" stroke-width="0.8" stroke-opacity="0.5"/>
<line x1="541.74" x2="541.74" y1="175.34" y2="179.66" stroke="#2a2430" stroke-width="0.8" stroke-opacity="0.5"/>
<rect x="539.82" y="139.91" width="3.85" height="35.43" fill="#d81b60" stroke="#2a2430" stroke-width="0.5" stroke-opacity="0.95"/>
</g>
<!-- header -->
<g><text x="10.6" y="27.9" font-size="7.9" fill="#1a1d26" stroke="#1a1d26" stroke-width="0.18" textLength="112.4" lengthAdjust="spacingAndGlyphs">Bitcoin / U.S. Dollar · 1M · Bitstamp</text><text x="128" y="27.9" font-size="7.9" fill="#1a1d26" stroke="#1a1d26" stroke-width="0.18" textLength="30.7" lengthAdjust="spacingAndGlyphs">O109,554</text><text x="163.7" y="27.9" font-size="7.9" fill="#1a1d26" stroke="#1a1d26" stroke-width="0.18" textLength="27.5" lengthAdjust="spacingAndGlyphs">H111,129</text><text x="195.7" y="27.9" font-size="7.9" fill="#1a1d26" stroke="#1a1d26" stroke-width="0.18" textLength="25.6" lengthAdjust="spacingAndGlyphs">L80,537</text><text x="225.9" y="27.9" font-size="7.9" fill="#1a1d26" stroke="#1a1d26" stroke-width="0.18" textLength="28.4" lengthAdjust="spacingAndGlyphs">C83,693</text><text x="258.9" y="27.9" font-size="7.9" fill="#1a1d26" stroke="#1a1d26" stroke-width="0.18" textLength="61.4" lengthAdjust="spacingAndGlyphs">−25,861 (−23.61%)</text><text x="324.9" y="27.9" font-size="7.9" fill="#1a1d26" stroke="#1a1d26" stroke-width="0.18" textLength="53.1" lengthAdjust="spacingAndGlyphs">−1,352 (−1.59%)</text></g>
<!-- price axis -->
<clipPath id="cp2"><rect x="740" y="15.2" width="60" height="400"/></clipPath>
<g clip-path="url(#cp2)"><text x="760.7" y="374.55" font-size="7.5" fill="#2a2e39">−60,000</text><text x="760.7" y="347.15" font-size="7.5" fill="#2a2e39">−40,000</text><text x="760.7" y="319.75" font-size="7.5" fill="#2a2e39">−20,000</text><text x="760.7" y="292.35" font-size="7.5" fill="#2a2e39">0</text><text x="760.7" y="264.95" font-size="7.5" fill="#2a2e39">20,000</text><text x="760.7" y="237.55" font-size="7.5" fill="#2a2e39">40,000</text><text x="760.7" y="210.15" font-size="7.5" fill="#2a2e39">60,000</text><text x="760.7" y="182.75" font-size="7.5" fill="#2a2e39">80,000</text><text x="760.7" y="155.35" font-size="7.5" fill="#2a2e39">100,000</text><text x="760.7" y="127.95" font-size="7.5" fill="#2a2e39">120,000</text><text x="760.7" y="100.55" font-size="7.5" fill="#2a2e39">140,000</text><text x="760.7" y="73.15" font-size="7.5" fill="#2a2e39">160,000</text><text x="760.7" y="45.75" font-size="7.5" fill="#2a2e39">180,000</text><text x="760.7" y="18.35" font-size="7.5" fill="#2a2e39">200,000</text></g>
<!-- date labels -->
<g><rect x="191.9" y="400.3" width="60.6" height="13.2" fill="#8fb8f4"/><text x="197.5" y="410.9" font-size="7.5" fill="#13203f" stroke="#13203f" stroke-width="0.2" textLength="49.9" lengthAdjust="spacingAndGlyphs">Tue 01 Dec '20</text><rect x="255.6" y="400.3" width="62.0" height="13.2" fill="#8fb8f4"/><text x="260.9" y="410.9" font-size="7.5" fill="#13203f" stroke="#13203f" stroke-width="0.2" textLength="52.1" lengthAdjust="spacingAndGlyphs">Wed 01 Dec '21</text><rect x="321.6" y="400.3" width="60.9" height="13.2" fill="#8fb8f4"/><text x="327.0" y="410.9" font-size="7.5" fill="#13203f" stroke="#13203f" stroke-width="0.2" textLength="50.4" lengthAdjust="spacingAndGlyphs">Thu 01 Dec '22</text><rect x="388.8" y="400.3" width="56.9" height="13.2" fill="#8fb8f4"/><text x="394.0" y="410.9" font-size="7.5" fill="#13203f" stroke="#13203f" stroke-width="0.2" textLength="46.4" lengthAdjust="spacingAndGlyphs">Fri 01 Dec '23</text><rect x="451.6" y="400.3" width="60.9" height="13.2" fill="#8fb8f4"/><text x="457.0" y="410.9" font-size="7.5" fill="#13203f" stroke="#13203f" stroke-width="0.2" textLength="50.2" lengthAdjust="spacingAndGlyphs">Sun 01 Dec '24</text></g>
<!-- icon -->
<g fill="none" stroke="#7d2f9e" stroke-width="0.95" stroke-linecap="round">
<path d="M536.35 393.09 A5.5 5.5 0 1 1 538.46 397.23"/>
<path d="M543.7 389.9 L539.9 393.7 L543.1 392.3 L539.6 396.5" stroke="#8e1fa6" stroke-width="0.7" stroke-linejoin="miter"/>
</g>
<path d="M535.55 392.40000000000003 L536.4 394.25 L538.25 395.1 L536.4 395.95000000000005 L535.55 397.8 L534.6999999999999 395.95000000000005 L532.8499999999999 395.1 L534.6999999999999 394.25 Z" fill="#7453c6"/>
<!-- logo -->
<g fill="#0b0c12">
<path d="M7 428.3 H13.9 V436.9 H10.1 V431.8 H7 Z"/>
<circle cx="16.3" cy="430.1" r="1.5"/>
<path d="M19.9 428.3 H23.9 L20.9 436.9 H17 Z"/>
<text x="28.3" y="436.6" font-size="10.5" stroke="#0b0c12" stroke-width="0.6" stroke-linejoin="round" textLength="69.4" lengthAdjust="spacingAndGlyphs">TradingView</text>
</g>
</svg>
</body></html>
